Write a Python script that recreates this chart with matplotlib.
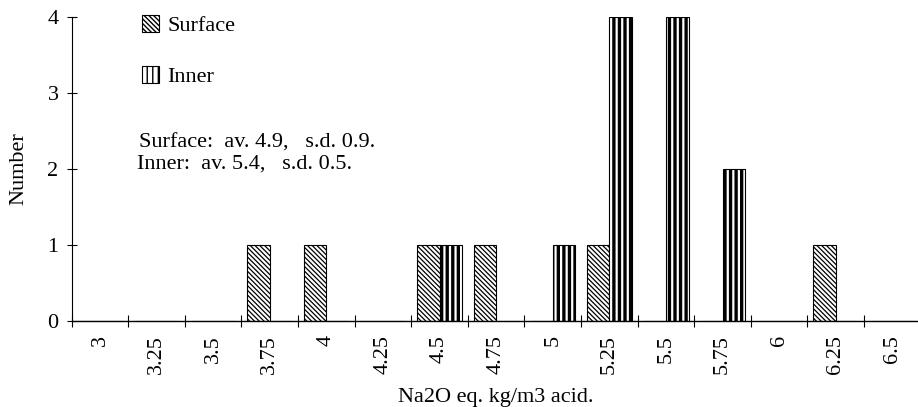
import matplotlib.pyplot as plt
import numpy as np

plt.rcParams['font.family'] = ['Liberation Serif', 'DejaVu Serif']

# Histogram classes (Na2O eq. kg/m3 acid)
categories = ['3', '3.25', '3.5', '3.75', '4', '4.25', '4.5', '4.75',
              '5', '5.25', '5.5', '5.75', '6', '6.25', '6.5']
surface = [0, 0, 0, 1, 1, 0, 1, 1, 0, 1, 0, 0, 0, 1, 0]
inner = [0, 0, 0, 0, 0, 0, 1, 0, 1, 4, 4, 2, 0, 0, 0]
yticks = [0, 1, 2, 3, 4]
surface_note = 'Surface:  av. 4.9,   s.d. 0.9.'
inner_note = 'Inner:  av. 5.4,   s.d. 0.5.'

fig = plt.figure(figsize=(9.18, 4.07), dpi=100)
ax = fig.add_axes([0.0781, 0.2113, 0.9248, 0.748])

x = np.arange(len(categories))
w = 0.4
b1 = ax.bar(x - w / 2, surface, w, color='white', edgecolor='black',
            linewidth=0.8, hatch='\\' * 7, label='Surface')
b2 = ax.bar(x + w / 2, inner, w, color='white', edgecolor='black',
            linewidth=0.8, hatch='|||', label='Inner')
for p in b1:
    if hasattr(p, 'set_hatch_linewidth'):
        p.set_hatch_linewidth(0.9)
for p in b2:
    if hasattr(p, 'set_hatch_linewidth'):
        p.set_hatch_linewidth(2.4)

ax.set_xlim(-0.5, len(categories) - 0.5)
ax.set_ylim(0, 4)

# labels in the middle of each class, tick marks on the class borders
ax.set_xticks(x)
ax.set_xticklabels(categories, rotation=90, fontsize=16)
ax.set_xticks(np.arange(len(categories) + 1) - 0.5, minor=True)
ax.tick_params(axis='x', which='major', length=0, pad=10)
ax.tick_params(axis='x', which='minor', direction='inout', length=8, width=0.8)
ax.set_yticks(yticks)
ax.tick_params(axis='y', direction='inout', length=7, width=0.8, labelsize=16, pad=6)

for s in ['top', 'right']:
    ax.spines[s].set_visible(False)
ax.spines['left'].set_linewidth(0.8)
ax.spines['bottom'].set_linewidth(1.0)

ax.set_ylabel('Number', fontsize=16, labelpad=14)
ax.set_xlabel('Na2O eq. kg/m3 acid.', fontsize=16, labelpad=10)

leg = ax.legend(loc='upper left', bbox_to_anchor=(0.083, 1.004), frameon=False,
                fontsize=16, handlelength=0.75, handleheight=0.75, handletextpad=0.4,
                labelspacing=1.35, borderpad=0, borderaxespad=0)

ax.text(0.0793, 0.585, surface_note, transform=ax.transAxes, va='center', fontsize=16)
ax.text(0.0766, 0.515, inner_note, transform=ax.transAxes, va='center', fontsize=16)

fig.savefig('out.png', dpi=100)
